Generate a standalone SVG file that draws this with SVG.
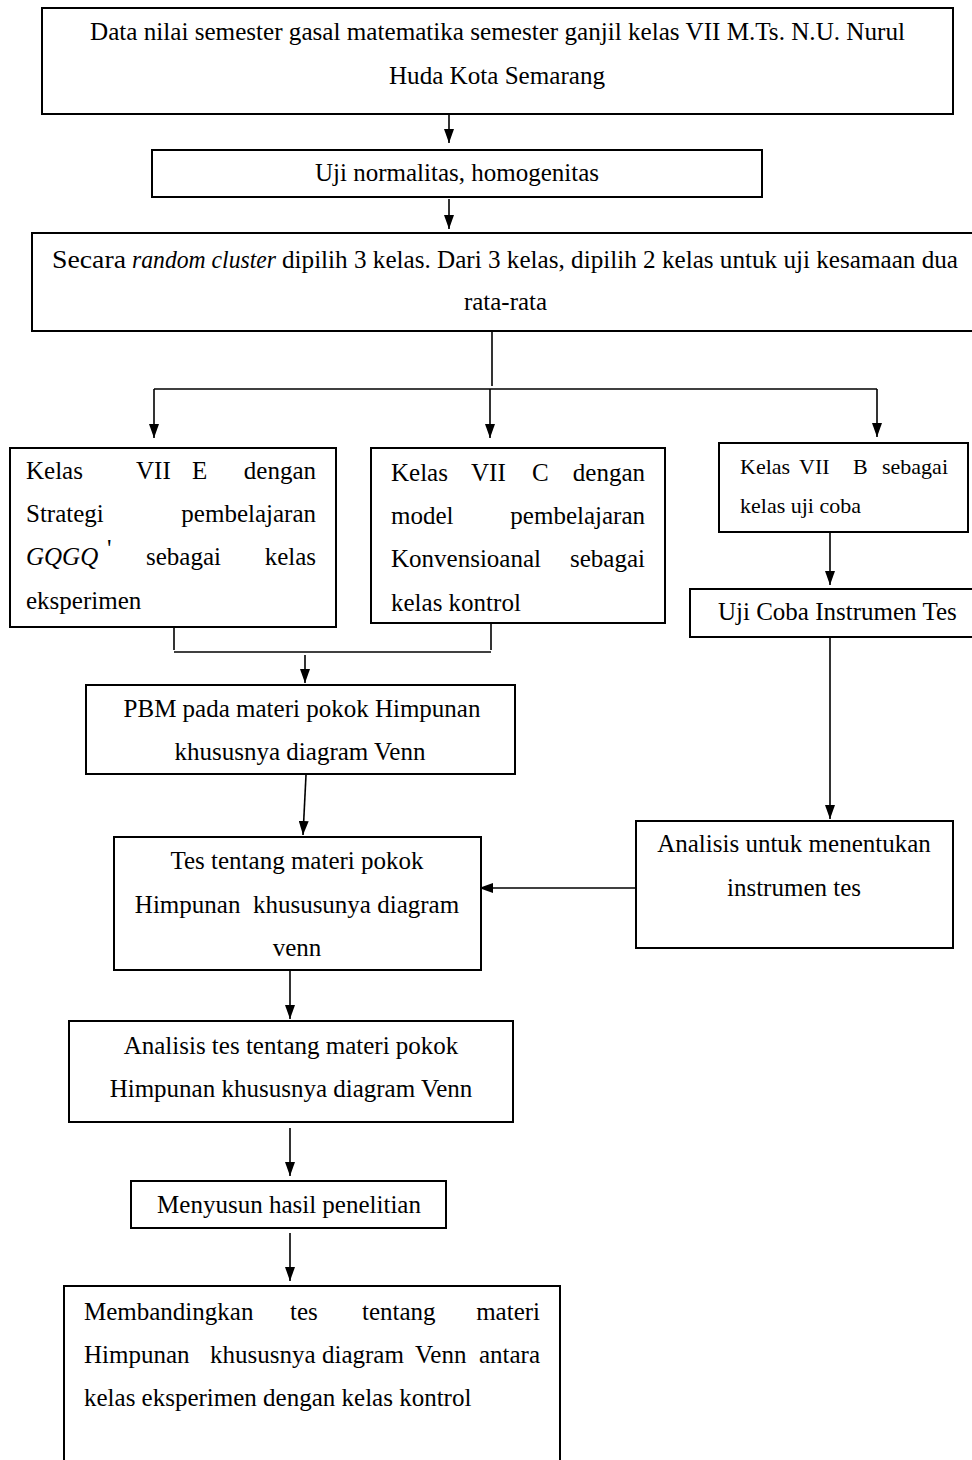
<svg xmlns="http://www.w3.org/2000/svg" width="972" height="1460" viewBox="0 0 972 1460">
<defs>
<style>
.box{fill:#fff;stroke:#000;stroke-width:2}
.ln{fill:none;stroke:#000;stroke-width:1.6}
.t{font-family:"Liberation Serif","Times New Roman",serif;font-size:25px;fill:#000}
.c{text-anchor:middle}
.e{text-anchor:end}
.s{font-size:22px}
.i{font-style:italic}
</style>
<marker id="ah" viewBox="0 0 14 10" refX="14" refY="5" markerWidth="14" markerHeight="10" markerUnits="userSpaceOnUse" orient="auto">
<path d="M0,0 L14,5 L0,10 z" fill="#000"/>
</marker>
</defs>
<rect width="972" height="1460" fill="#fff"/>

<g id="connectors">
<line class="ln" x1="449" y1="115" x2="449" y2="143" marker-end="url(#ah)"/>
<line class="ln" x1="449" y1="199" x2="449" y2="229" marker-end="url(#ah)"/>
<line class="ln" x1="492" y1="332" x2="492" y2="386"/>
<line class="ln" x1="154" y1="389" x2="877" y2="389"/>
<line class="ln" x1="154" y1="389" x2="154" y2="438" marker-end="url(#ah)"/>
<line class="ln" x1="490" y1="389" x2="490" y2="438" marker-end="url(#ah)"/>
<line class="ln" x1="877" y1="389" x2="877" y2="437" marker-end="url(#ah)"/>
<line class="ln" x1="830" y1="533" x2="830" y2="585" marker-end="url(#ah)"/>
<line class="ln" x1="830" y1="638" x2="830" y2="819" marker-end="url(#ah)"/>
<line class="ln" x1="636" y1="888" x2="479" y2="888" marker-end="url(#ah)"/>
<line class="ln" x1="174" y1="628" x2="174" y2="650"/>
<line class="ln" x1="491" y1="624" x2="491" y2="650"/>
<line class="ln" x1="174" y1="652" x2="491" y2="652"/>
<line class="ln" x1="305" y1="655" x2="305" y2="683" marker-end="url(#ah)"/>
<line class="ln" x1="306" y1="775" x2="303" y2="835" marker-end="url(#ah)"/>
<line class="ln" x1="290" y1="971" x2="290" y2="1019" marker-end="url(#ah)"/>
<line class="ln" x1="290" y1="1128" x2="290" y2="1176" marker-end="url(#ah)"/>
<line class="ln" x1="290" y1="1233" x2="290" y2="1281" marker-end="url(#ah)"/>
</g>

<g id="n1">
<rect class="box" x="42" y="8" width="911" height="106"/>
<text class="t" x="90" y="40" textLength="815" lengthAdjust="spacingAndGlyphs">Data nilai semester gasal matematika semester ganjil kelas VII M.Ts. N.U. Nurul</text>
<text class="t" x="389" y="84" textLength="216" lengthAdjust="spacingAndGlyphs">Huda Kota Semarang</text>
</g>

<g id="n2">
<rect class="box" x="152" y="150" width="610" height="47"/>
<text class="t c" x="457" y="181">Uji normalitas, homogenitas</text>
</g>

<g id="n3">
<rect class="box" x="32" y="233" width="950" height="98"/>
<text class="t" x="52" y="268" textLength="74" lengthAdjust="spacingAndGlyphs">Secara</text>
<text class="t i" x="132" y="268" textLength="144" lengthAdjust="spacingAndGlyphs">random cluster</text>
<text class="t" x="282" y="268" textLength="676" lengthAdjust="spacingAndGlyphs">dipilih 3 kelas. Dari 3 kelas, dipilih 2 kelas untuk uji kesamaan dua</text>
<text class="t" x="464" y="310" textLength="83" lengthAdjust="spacingAndGlyphs">rata-rata</text>
</g>

<g id="n4">
<rect class="box" x="10" y="448" width="326" height="179"/>
<text class="t" x="26" y="479">Kelas</text>
<text class="t" x="136" y="479">VII</text>
<text class="t" x="192" y="479">E</text>
<text class="t e" x="316" y="479">dengan</text>
<text class="t" x="26" y="522">Strategi</text>
<text class="t e" x="316" y="522">pembelajaran</text>
<text class="t" x="107" y="557" font-size="36">'</text>
<text class="t i" x="26" y="565">GQGQ</text>
<text class="t" x="146" y="565">sebagai</text>
<text class="t e" x="316" y="565">kelas</text>
<text class="t" x="26" y="609">eksperimen</text>
</g>

<g id="n5">
<rect class="box" x="371" y="448" width="294" height="175"/>
<text class="t" x="391" y="481">Kelas</text>
<text class="t" x="471" y="481">VII</text>
<text class="t" x="532" y="481">C</text>
<text class="t e" x="645" y="481">dengan</text>
<text class="t" x="391" y="524">model</text>
<text class="t e" x="645" y="524">pembelajaran</text>
<text class="t" x="391" y="567">Konvensioanal</text>
<text class="t e" x="645" y="567">sebagai</text>
<text class="t" x="391" y="611">kelas kontrol</text>
</g>

<g id="n6">
<rect class="box" x="719" y="443" width="249" height="89"/>
<text class="t s" x="740" y="474">Kelas</text>
<text class="t s" x="799" y="474">VII</text>
<text class="t s" x="853" y="474">B</text>
<text class="t s e" x="948" y="474">sebagai</text>
<text class="t s" x="740" y="513">kelas uji coba</text>
</g>

<g id="n7">
<rect class="box" x="690" y="589" width="292" height="48"/>
<text class="t" x="718" y="620">Uji Coba Instrumen Tes</text>
</g>

<g id="n8">
<rect class="box" x="86" y="685" width="429" height="89"/>
<text class="t c" x="302" y="717">PBM pada materi pokok Himpunan</text>
<text class="t c" x="300" y="760">khususnya diagram Venn</text>
</g>

<g id="n9">
<rect class="box" x="636" y="821" width="317" height="127"/>
<text class="t c" x="794" y="852">Analisis untuk menentukan</text>
<text class="t c" x="794" y="896">instrumen tes</text>
</g>

<g id="n10">
<rect class="box" x="114" y="837" width="367" height="133"/>
<text class="t c" x="297" y="869">Tes tentang materi pokok</text>
<text class="t c" x="297" y="913" xml:space="preserve">Himpunan  khususunya diagram</text>
<text class="t c" x="297" y="956">venn</text>
</g>

<g id="n11">
<rect class="box" x="69" y="1021" width="444" height="101"/>
<text class="t c" x="291" y="1054">Analisis tes tentang materi pokok</text>
<text class="t c" x="291" y="1097">Himpunan khususnya diagram Venn</text>
</g>

<g id="n12">
<rect class="box" x="131" y="1181" width="315" height="47"/>
<text class="t c" x="289" y="1213">Menyusun hasil penelitian</text>
</g>

<g id="n13">
<rect class="box" x="64" y="1286" width="496" height="190"/>
<text class="t" x="84" y="1320">Membandingkan</text>
<text class="t" x="290" y="1320">tes</text>
<text class="t" x="362" y="1320">tentang</text>
<text class="t e" x="540" y="1320">materi</text>
<text class="t" x="84" y="1363">Himpunan</text>
<text class="t" x="210" y="1363">khususnya</text>
<text class="t" x="322" y="1363">diagram</text>
<text class="t" x="415" y="1363">Venn</text>
<text class="t e" x="540" y="1363">antara</text>
<text class="t" x="84" y="1406">kelas eksperimen dengan kelas kontrol</text>
</g>
</svg>
